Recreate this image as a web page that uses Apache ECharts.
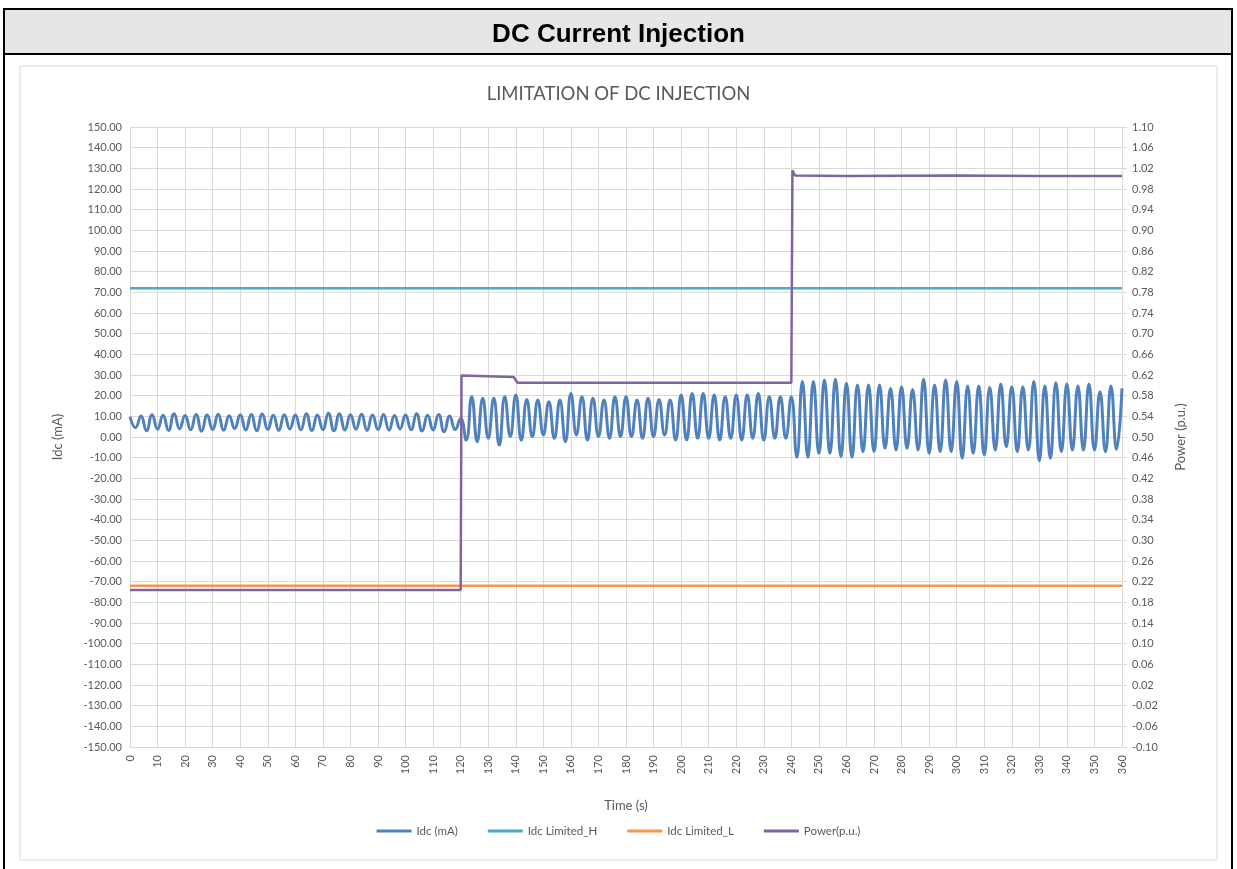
<!DOCTYPE html>
<html>
<head>
<meta charset="utf-8">
<script src="https://cdn.jsdelivr.net/npm/echarts@6/dist/echarts.min.js"></script>
<style>
  html, body { margin: 0; padding: 0; background: #fff; }
  #container { width: 1237px; height: 869px; }
</style>
</head>
<body>
<div id="container"></div>
<script>
// sampled every 2 s, peaks and troughs of the Idc ripple (mA)
var sampleStep = 2;
var idcSeg1 = [
    9.8, 4.5, 10.2, 3.0, 10.8, 3.8, 10.5, 3.2, 11.2, 4.0, 10.4, 3.5, 10.9, 2.8, 10.6, 3.6, 11.0, 3.3, 10.3, 4.1,
    10.8, 3.4, 10.9, 3.0, 11.1, 3.7, 10.5, 3.2, 10.8, 3.9, 10.6, 3.5, 11.2, 3.1, 10.7, 3.6, 11.5, 3.0, 11.3, 3.4,
    10.8, 3.8, 11.0, 3.2, 10.6, 3.6, 10.9, 3.3, 10.4, 3.9, 10.7, 3.5, 11.3, 2.9, 10.5, 3.4, 10.9, 2.5, 10.2, 3.6,
    9.0
];
var idcSeg2 = [
    -1.5, 19.5, -2.3, 18.7, -0.6, 18.7, -3.9, 19.5, 0.2, 20.3,
    -1.5, 18.2, 0.2, 17.9, 1.0, 17.1, -0.6, 17.9, -2.3, 21.1,
    1.0, 19.5, -1.5, 18.7, 0.2, 17.9, -0.6, 19.5, 0.2, 19.5,
    0.2, 17.9, -0.6, 18.7, 0.2, 18.2, 1.0, 17.9, -1.5, 20.3,
    -1.5, 21.1, -0.6, 21.1, -0.6, 20.3, -1.5, 19.5, -0.6, 20.3,
    -1.5, 20.3, -0.6, 21.1, -1.5, 19.5, -0.6, 19.5, -0.6, 19.5
];
var idcSeg3 = [
    -9.8, 26.8, -9.8, 26.8, -7.9, 27.6, -7.9, 27.9, -9.5, 26.0,
    -9.8, 25.2, -7.1, 25.2, -7.1, 25.2, -5.5, 23.5, -6.3, 24.3,
    -5.5, 23.0, -6.3, 27.9, -7.9, 25.2, -7.1, 27.6, -7.1, 26.8,
    -10.3, 24.7, -7.9, 24.7, -8.7, 24.0, -6.3, 25.6, -4.7, 24.3,
    -7.1, 24.3, -6.3, 26.8, -11.5, 24.7, -10.3, 26.3, -7.1, 25.6,
    -6.3, 24.7, -6.3, 25.6, -6.3, 21.9, -7.1, 24.7, -6.0, 23.5
];

var limitTime = [0, 360];
var limitH = [72, 72];
var limitL = [-72, -72];

var powerTime = [0, 120, 120.3, 121, 139.3, 140.6, 180, 240, 240.4, 241.3, 260, 300, 330, 360];
var powerValues = [0.204, 0.204, 0.619, 0.616, 0.616, 0.605, 0.605, 0.605, 1.016, 1.006, 1.005, 1.006, 1.005, 1.005];

var seriesNames = ['Idc (mA)', 'Idc Limited_H', 'Idc Limited_L', 'Power(p.u.)'];

var idcValues = idcSeg1.concat(idcSeg2, idcSeg3);
var idcData = idcValues.map(function (v, i) { return [i * sampleStep, v]; });
function pairs(xs, ys) {
    return xs.map(function (x, i) { return [x, ys[i]]; });
}

var dom = document.getElementById('container');
var myChart = echarts.init(dom, null, { renderer: 'canvas' });

var txt = '#595959';
var grid = '#d9d9d9';
var font = 'Lato';

var option = {
    backgroundColor: '#fff',
    animation: false,
    graphic: [
        { type: 'rect', shape: { x: 4, y: 9, width: 1228, height: 900 }, style: { fill: '#fff', stroke: '#000', lineWidth: 2 }, z: -10 },
        { type: 'rect', shape: { x: 4, y: 9, width: 1228, height: 45 }, style: { fill: '#e6e6e6', stroke: '#000', lineWidth: 2 }, z: -9 },
        { type: 'rect', shape: { x: 20, y: 66, width: 1197, height: 794 }, style: { fill: '#fff', stroke: '#d9d9d9', lineWidth: 1 }, z: -9 }
    ],
    title: [
        {
            text: 'DC Current Injection',
            left: 'center',
            top: 17,
            textStyle: { fontFamily: 'Liberation Sans', fontWeight: 'bold', fontSize: 26, color: '#000' }
        },
        {
            text: 'LIMITATION OF DC INJECTION',
            left: 'center',
            top: 80,
            textStyle: { fontFamily: font, fontWeight: 'normal', fontSize: 18.5, color: txt }
        }
    ],
    legend: {
        data: seriesNames,
        bottom: 27,
        left: 'center',
        icon: 'rect',
        itemWidth: 35,
        itemHeight: 3,
        itemGap: 30,
        textStyle: { fontFamily: font, fontSize: 11.5, color: txt }
    },
    grid: { left: 130, right: 115, top: 127, bottom: 122 },
    xAxis: {
        type: 'value',
        min: 0,
        max: 360,
        interval: 10,
        name: 'Time (s)',
        nameLocation: 'middle',
        nameGap: 52,
        nameTextStyle: { fontFamily: font, fontSize: 13, color: txt },
        axisLine: { lineStyle: { color: grid } },
        axisTick: { show: false },
        axisLabel: { rotate: 90, margin: 8, fontFamily: font, fontSize: 11, color: txt },
        splitLine: { show: true, lineStyle: { color: grid } }
    },
    yAxis: [
        {
            type: 'value',
            min: -150,
            max: 150,
            interval: 10,
            name: 'Idc (mA)',
            nameLocation: 'middle',
            nameRotate: 90,
            nameGap: 66,
            nameTextStyle: { fontFamily: font, fontSize: 13, color: txt },
            axisLine: { show: false },
            axisTick: { show: false },
            axisLabel: { margin: 8, fontFamily: font, fontSize: 11, color: txt, formatter: function (v) { return v.toFixed(2); } },
            splitLine: { show: true, lineStyle: { color: grid } }
        },
        {
            type: 'value',
            min: -0.1,
            max: 1.1,
            interval: 0.04,
            name: 'Power (p.u.)',
            nameLocation: 'middle',
            nameRotate: 90,
            nameGap: 52,
            nameTextStyle: { fontFamily: font, fontSize: 13, color: txt },
            axisLine: { show: false },
            axisTick: { show: true, length: 5, lineStyle: { color: grid } },
            axisLabel: { margin: 10, fontFamily: font, fontSize: 11, color: txt, formatter: function (v) { return v.toFixed(2); } },
            splitLine: { show: false }
        }
    ],
    series: [
        {
            name: seriesNames[0],
            type: 'line',
            data: idcData,
            smooth: 0.5,
            showSymbol: false,
            lineStyle: { color: '#4f81bd', width: 3 },
            itemStyle: { color: '#4f81bd' }
        },
        {
            name: seriesNames[1],
            type: 'line',
            data: pairs(limitTime, limitH),
            showSymbol: false,
            lineStyle: { color: '#4bacc6', width: 2.5 },
            itemStyle: { color: '#4bacc6' }
        },
        {
            name: seriesNames[2],
            type: 'line',
            data: pairs(limitTime, limitL),
            showSymbol: false,
            lineStyle: { color: '#f79646', width: 2.5 },
            itemStyle: { color: '#f79646' }
        },
        {
            name: seriesNames[3],
            type: 'line',
            yAxisIndex: 1,
            data: pairs(powerTime, powerValues),
            showSymbol: false,
            lineStyle: { color: '#8064a2', width: 2.5 },
            itemStyle: { color: '#8064a2' }
        }
    ]
};

myChart.setOption(option);
window.addEventListener('resize', myChart.resize);
</script>
</body>
</html>
